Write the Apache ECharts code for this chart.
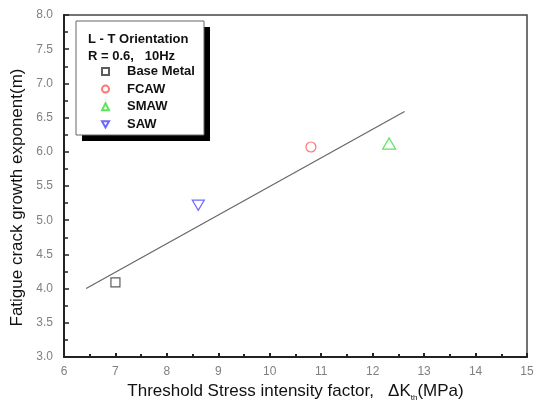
<!DOCTYPE html>
<html>
<head>
<meta charset="utf-8">
<script src="https://cdn.jsdelivr.net/npm/echarts@6/dist/echarts.min.js"></script>
<style>
html,body{margin:0;padding:0;background:#fff;}
#chart{width:542px;height:408px;}
</style>
</head>
<body>
<div id="chart"></div>
<script>
// Data
var seriesNames = ['Base Metal', 'FCAW', 'SMAW', 'SAW'];
var baseMetal = [[7.0, 4.09]];
var fcaw = [[10.8, 6.07]];
var smaw = [[12.32, 6.12]];
var saw = [[8.61, 5.22]];
var fitLine = [[6.43, 4.0], [12.62, 6.59]];
var legendHeader = ['L - T Orientation', 'R = 0.6,   10Hz'];

var chart = echarts.init(document.getElementById('chart'), null, {renderer: 'canvas'});
var FONT = 'Liberation Sans, Arial, sans-serif';
var downTri = 'path://M0,0 L10,0 L5,9 Z';

function hollow(color) {
  return {color: '#fff', borderColor: color, borderWidth: 1.2};
}

var option = {
  backgroundColor: '#fff',
  animation: false,
  grid: {left: 64, right: 15, top: 15, bottom: 51, show: true, borderColor: '#444', borderWidth: 1.5, backgroundColor: 'transparent'},
  xAxis: {
    type: 'value', min: 6, max: 15, interval: 1,
    name: 'Threshold Stress intensity factor,   ΔK{sub|th}(MPa)',
    nameLocation: 'middle', nameGap: 22,
    nameTextStyle: {fontFamily: FONT, fontSize: 17, color: '#111',
      rich: {sub: {fontFamily: FONT, fontSize: 8, color: '#111', padding: [12, 0, 0, 0]}}},
    axisLine: {show: true, lineStyle: {color: '#222', width: 2}},
    axisTick: {show: true, inside: true, length: 4, lineStyle: {color: '#222', width: 2}},
    minorTick: {show: true, splitNumber: 2, length: 3, lineStyle: {color: '#222', width: 2}},
    axisLabel: {fontFamily: FONT, fontSize: 12, color: '#808080', margin: 9},
    splitLine: {show: false}
  },
  yAxis: {
    type: 'value', min: 3, max: 8, interval: 0.5,
    name: 'Fatigue crack growth exponent(m)',
    nameLocation: 'middle', nameGap: 29,
    nameTextStyle: {fontFamily: FONT, fontSize: 17, color: '#111', padding: [0, 23, 0, 0]},
    axisLine: {show: true, lineStyle: {color: '#222', width: 2}},
    axisTick: {show: true, inside: true, length: 5, lineStyle: {color: '#222', width: 1.5}},
    minorTick: {show: true, splitNumber: 2, length: 4, lineStyle: {color: '#222', width: 1.5}},
    axisLabel: {fontFamily: FONT, fontSize: 12, color: '#808080', margin: 11,
      formatter: function (v) { return v.toFixed(1); }},
    splitLine: {show: false}
  },
  legend: {
    orient: 'vertical', left: 96, top: 60,
    data: seriesNames,
    itemWidth: 7, itemHeight: 7, itemGap: 4.6,
    textStyle: {fontFamily: FONT, fontSize: 13, fontWeight: 'bold', color: '#111', lineHeight: 12, padding: [0, 0, 0, 13]},
    z: 20
  },
  graphic: [
    {type: 'rect', z: 10, shape: {x: 82, y: 27, width: 128, height: 114}, style: {fill: '#000'}},
    {type: 'rect', z: 11, shape: {x: 76, y: 21, width: 128, height: 114},
      style: {fill: '#fff', stroke: '#666', lineWidth: 1}},
    {type: 'text', z: 30, left: 88, top: 33, style: {text: legendHeader[0], font: 'bold 13px ' + FONT, fill: '#111'}},
    {type: 'text', z: 30, left: 88, top: 50, style: {text: legendHeader[1], font: 'bold 13px ' + FONT, fill: '#111'}}
  ],
  series: [
    {type: 'line', name: 'fit', data: fitLine, symbol: 'none', silent: true,
      lineStyle: {color: '#666', width: 1.2}, z: 1},
    {type: 'scatter', name: seriesNames[0], data: baseMetal, symbol: 'rect', symbolSize: 9, itemStyle: hollow('#333')},
    {type: 'scatter', name: seriesNames[1], data: fcaw, symbol: 'circle', symbolSize: 10, itemStyle: hollow('#ff5050')},
    {type: 'scatter', name: seriesNames[2], data: smaw, symbol: 'triangle', symbolSize: [13, 11], itemStyle: hollow('#33dd33')},
    {type: 'scatter', name: seriesNames[3], data: saw, symbol: downTri, symbolSize: [12, 10], itemStyle: hollow('#4444ff')}
  ]
};
chart.setOption(option);
</script>
</body>
</html>
